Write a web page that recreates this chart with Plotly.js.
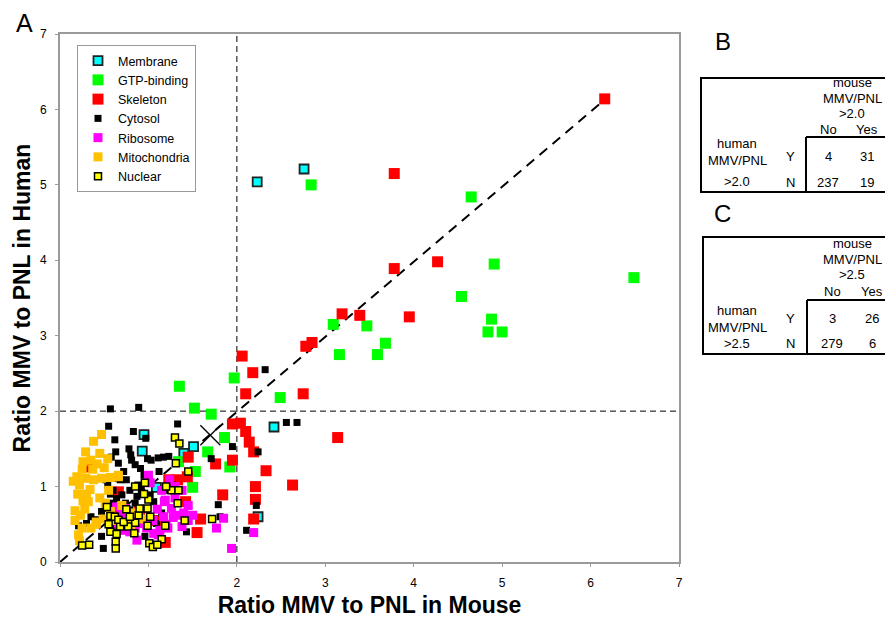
<!DOCTYPE html>
<html>
<head>
<meta charset="utf-8">
<script src="https://cdn.plot.ly/plotly-3.0.1.min.js"></script>
<style>html,body{margin:0;padding:0;background:#fff;}#chart{width:885px;height:618px;}</style>
</head>
<body>
<div id="chart"></div>
<script>
// ---------- DATA ----------
const categories = ["Membrane","GTP-binding","Skeleton","Cytosol","Ribosome","Mitochondria","Nuclear"];

const membraneX = [2.23,2.76,2.42,0.95,0.93,1.51,1.40,1.09,2.24];
const membraneY = [5.04,5.21,1.79,1.69,1.47,1.53,1.44,0.99,0.60];

const gtpX = [2.84,4.65,4.91,4.54,4.88,4.84,5.00,6.49,3.09,3.47,3.68,3.16,3.59,2.49,1.97,1.35,1.52,1.71,1.86,1.67,1.92,1.53,1.50,1.34];
const gtpY = [5.00,4.84,3.95,3.52,3.22,3.05,3.05,3.77,3.15,3.13,2.90,2.75,2.75,2.18,2.44,2.33,2.04,1.96,1.65,1.46,1.26,1.20,0.99,1.33];

const skeletonX = [6.16,3.78,3.78,4.27,3.19,3.39,3.95,2.78,2.85,2.75,3.14,2.06,2.18,2.10,1.95,2.04,2.10,2.14,2.19,1.76,1.95,2.33,1.45,1.44,1.84,2.21,2.21,2.63,1.42,2.19,1.59,1.55,1.19,1.33,1.23,0.33,0.66,0.90,0.72,1.10,0.60];
const skeletonY = [6.14,5.15,3.89,3.98,3.29,3.27,3.25,2.86,2.91,2.23,1.65,2.73,2.51,2.23,1.83,1.84,1.73,1.59,1.46,1.30,1.35,1.21,1.39,1.13,0.89,1.00,0.83,1.02,0.80,0.57,0.57,0.39,0.26,1.09,1.09,1.26,0.93,0.67,0.56,0.55,0.70];

const cytosolX = [0.57,2.32,0.89,1.33,0.83,0.62,0.97,0.63,0.58,0.80,0.81,0.85,0.91,1.03,1.11,1.17,1.23,0.66,0.52,0.60,0.68,0.75,0.57,0.64,0.70,0.79,0.87,0.92,1.02,1.06,0.85,0.79,0.74,0.60,0.55,0.47,0.40,0.30,0.21,0.47,0.49,0.96,0.90,0.62,1.09,1.79,1.43,1.71,1.95,2.11,2.24,2.56,2.68,2.22,1.81,0.54,0.60,0.55,1.00,1.12,0.95,0.72,0.88,0.98,1.15,0.68,0.35,1.27,1.20,0.78,0.99];
const cytosolY = [2.03,2.55,2.05,1.83,1.73,1.62,1.64,1.46,1.39,1.42,1.35,1.29,1.24,1.35,1.38,1.39,1.40,1.31,1.09,1.11,1.09,1.09,0.90,0.84,0.89,0.95,0.87,0.95,0.89,0.80,0.78,0.69,0.78,0.78,0.71,0.67,0.56,0.51,0.48,0.34,0.18,0.34,0.56,0.47,0.51,0.76,0.40,1.37,1.53,0.42,1.46,1.85,1.85,0.75,0.60,1.02,0.95,1.80,1.10,1.20,1.15,1.20,1.02,0.70,0.65,0.62,0.60,1.02,0.95,1.50,1.37];

const ribosomeX = [1.00,1.24,1.38,1.19,1.26,1.17,1.28,1.38,1.13,1.06,1.11,0.87,0.75,0.70,0.64,0.90,0.94,0.72,0.79,1.77,1.85,1.94,2.19,0.74,1.18,1.20,1.32,1.45,1.05,0.85,0.66,1.15,1.30,1.45,1.40,0.82,1.10,1.22,0.98,1.30,0.58,1.50,1.02];
const ribosomeY = [1.15,1.09,0.95,0.82,0.71,0.60,0.59,0.47,0.42,0.38,0.36,0.29,0.60,0.65,0.73,0.67,0.51,0.42,0.40,0.45,0.58,0.18,0.39,0.71,0.80,0.50,0.62,0.55,0.55,0.45,0.50,0.95,0.85,0.75,0.65,0.58,0.70,0.45,0.45,1.00,0.60,0.62,1.05];

const mitoX = [0.47,0.38,0.29,0.45,0.54,0.26,0.25,0.37,0.19,0.29,0.38,0.47,0.57,0.66,0.22,0.34,0.26,0.32,0.51,0.17,0.23,0.41,0.49,0.21,0.57,0.92,0.66,0.41,0.22,0.30,0.20,0.35,0.42,0.50,0.17,0.28,0.45,0.62,0.80,0.70,0.15,0.35,0.55,0.25,0.85];
const mitoY = [1.69,1.60,1.46,1.44,1.37,1.33,1.23,1.23,1.13,1.11,1.09,1.11,1.12,1.13,1.02,0.96,0.81,0.80,0.78,0.68,0.62,0.53,0.57,0.36,0.67,0.57,1.15,0.50,0.28,0.90,0.90,1.35,1.30,1.25,0.55,0.70,0.85,0.55,0.50,0.75,1.07,0.45,0.95,0.45,0.65];

const nuclearX = [1.30,1.35,1.31,0.96,1.26,1.34,1.33,1.41,1.72,1.19,1.00,0.99,1.02,0.99,0.85,0.77,0.84,0.68,0.57,0.64,0.63,0.63,0.53,0.57,0.62,0.66,0.72,0.79,0.89,0.90,1.01,1.15,0.25,0.33,1.05,1.10,0.75,0.95,1.20,0.55,0.85,1.45];
const nuclearY = [1.65,1.57,1.31,1.05,0.95,0.95,0.78,0.55,0.57,0.48,0.83,0.71,0.60,0.48,0.52,0.47,0.38,0.47,0.40,0.37,0.27,0.18,0.73,0.61,0.60,0.56,0.53,0.60,0.62,0.71,0.25,0.30,0.22,0.23,0.20,0.23,0.70,0.90,1.00,0.50,1.00,1.20];

const meanPoint = [1.70, 1.68];          // "X" marker
const threshold = 2.0;                   // dashed cut-off lines
const diagX = [0, 6.15];
const diagY = [0, 6.12];
const axisTicks = [0,1,2,3,4,5,6,7];

// Tables B and C
const tableBHeader = ["mouse","MMV/PNL",">2.0"];
const tableBRow = ["human","MMV/PNL",">2.0"];
const tableBCounts = [[4,31],[237,19]];
const tableCHeader = ["mouse","MMV/PNL",">2.5"];
const tableCRow = ["human","MMV/PNL",">2.5"];
const tableCCounts = [[3,26],[279,6]];
const colLabels = ["No","Yes"];
const rowLabels = ["Y","N"];

// ---------- LAYOUT HELPERS ----------
const PL=60, PR=679, PT=34, PB=562;
const fx = p => (p-PL)/(PR-PL);
const fy = p => (PB-p)/(PB-PT);
const FONT = "Arial, 'Liberation Sans', sans-serif";

function mk(name, xs, ys, color, size, lineColor, lineWidth){
  return {type:'scatter', mode:'markers', name:name, x:xs, y:ys,
    marker:{symbol:'square', color:color, size:size,
      line:{color:lineColor||color, width:lineWidth||0}}, cliponaxis:false};
}

const traces = [
  {type:'scatter', mode:'lines', x:diagX, y:diagY, showlegend:false, hoverinfo:'skip',
   line:{color:'#000', width:2, dash:'10px,7px'}},
  mk(categories[0], membraneX, membraneY, '#00FFFF', 9, '#222', 1.8),
  mk(categories[1], gtpX, gtpY, '#00FF00', 11),
  mk(categories[2], skeletonX, skeletonY, '#FF0000', 11),
  mk(categories[3], cytosolX, cytosolY, '#000000', 7),
  mk(categories[4], ribosomeX, ribosomeY, '#FF00FF', 9),
  mk(categories[5], mitoX, mitoY, '#FFC000', 9),
  mk(categories[6], nuclearX, nuclearY, '#FFFF00', 7, '#000', 1.5),
  {type:'scatter', mode:'markers', x:[meanPoint[0]], y:[meanPoint[1]], showlegend:false,
   marker:{symbol:'x-thin-open', size:20, color:'#000', line:{color:'#000', width:1.3}}}
];

const shapes = [
  {type:'line', xref:'x', yref:'y', x0:threshold, x1:threshold, y0:0, y1:7, layer:'below',
   line:{color:'#000', width:1, dash:'6px,4px'}},
  {type:'line', xref:'x', yref:'y', x0:0, x1:7, y0:threshold, y1:threshold, layer:'below',
   line:{color:'#000', width:1, dash:'6px,4px'}}
];
const annotations = [];
function txt(t, x, y, size, extra){
  annotations.push(Object.assign({xref:'paper', yref:'paper', x:fx(x), y:fy(y), text:t,
    showarrow:false, xanchor:'center', yanchor:'middle',
    font:{family:FONT, size:size, color:'#000'}}, extra||{}));
}
function rectPx(x0,y0,x1,y1){
  shapes.push({type:'rect', xref:'paper', yref:'paper', x0:fx(x0), x1:fx(x1), y0:fy(y0), y1:fy(y1),
    line:{color:'#000', width:2}});
}
function linePx(x0,y0,x1,y1){
  shapes.push({type:'line', xref:'paper', yref:'paper', x0:fx(x0), x1:fx(x1), y0:fy(y0), y1:fy(y1),
    line:{color:'#000', width:2}});
}
function table(top, bottom, innerTop, innerX, leftX, header, rowLbl, counts, hy, ny, ry, ly, colX){
  rectPx(leftX, top, 900, bottom);
  linePx(innerX, innerTop, innerX, bottom);
  linePx(innerX, innerTop, 900, innerTop);
  header.forEach((t,i)=>txt(t, 852, hy[i], 13));
  colLabels.forEach((t,i)=>txt(t, colX[i], ny, 13));
  rowLbl.forEach((t,i)=>txt(t, 737, ly[i], 13));
  rowLabels.forEach((t,i)=>txt(t, 790, ry[i], 13));
  counts.forEach((row,r)=>row.forEach((v,c)=>txt(String(v), colX[c], ry[r], 13)));
}
table(78, 192, 137, 806, 701, tableBHeader, tableBRow, tableBCounts,
      [83,99,114], 130, [157,182], [143,161,181], [828,867]);
table(237, 354, 300, 807, 703, tableCHeader, tableCRow, tableCCounts,
      [243,259,274], 291, [318,343], [310,327,343], [832,872]);

txt('A', 24, 23, 25);
txt('B', 723, 42, 24);
txt('C', 722, 213, 24);

const axisBase = {range:[0,7], tickvals:axisTicks, showgrid:false, zeroline:false,
  showline:true, linecolor:'#9a9a9a', linewidth:2, mirror:true,
  ticks:'outside', ticklen:3, tickcolor:'#9a9a9a', tickwidth:1,
  tickfont:{family:FONT, size:12, color:'#000'}, fixedrange:true};

const layout = {
  width:885, height:618,
  margin:{l:PL, r:885-PR, t:PT, b:618-PB},
  paper_bgcolor:'#fff', plot_bgcolor:'#fff',
  font:{family:FONT, color:'#000'},
  xaxis:Object.assign({}, axisBase, {ticklabelstandoff:6,
    title:{text:'Ratio MMV to PNL in Mouse', font:{family:FONT, size:23, color:'#000', weight:'bold'}, standoff:12}}),
  yaxis:Object.assign({}, axisBase, {ticklabelstandoff:6,
    title:{text:'Ratio MMV to PNL in Human', font:{family:FONT, size:23, color:'#000', weight:'bold'}, standoff:3}}),
  showlegend:true,
  legend:{x:fx(77), y:fy(45), xanchor:'left', yanchor:'top', bgcolor:'#fff',
    bordercolor:'#999', borderwidth:1, font:{family:FONT, size:12.5, color:'#000'},
    itemsizing:'trace', itemwidth:30, tracegroupgap:0},
  shapes:shapes, annotations:annotations,
  hovermode:false
};

Plotly.newPlot('chart', traces, layout, {staticPlot:true, displayModeBar:false});
</script>
</body>
</html>
